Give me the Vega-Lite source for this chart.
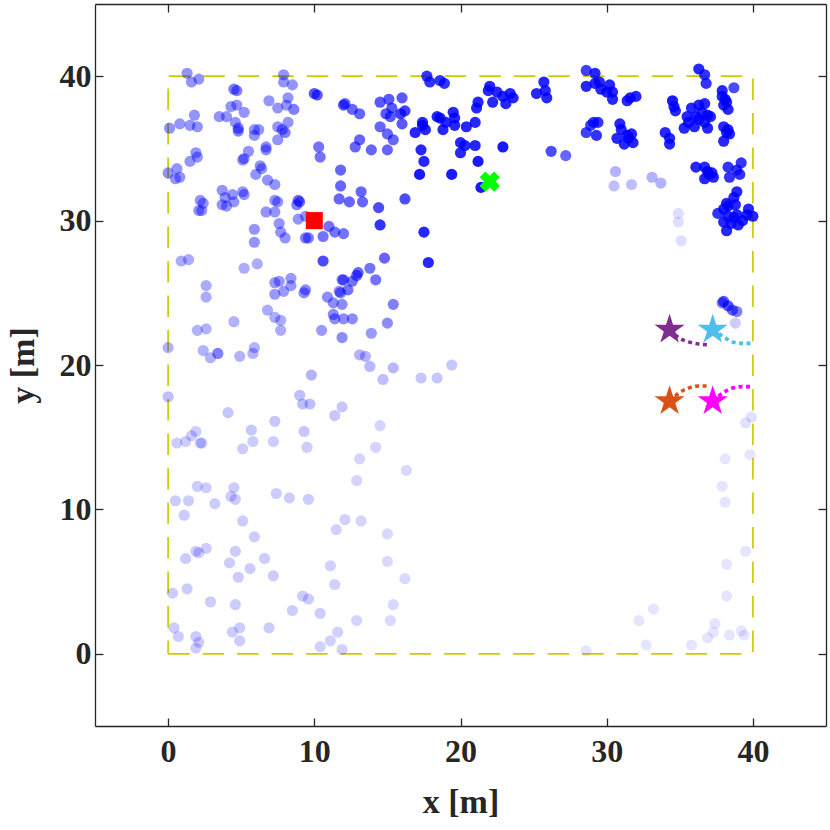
{
  "$schema": "https://vega.github.io/schema/vega-lite/v6.json",
  "width": 731,
  "height": 722,
  "autosize": "none",
  "padding": {"left": 95, "top": 4, "right": 4, "bottom": 104},
  "background": "white",
  "config": {
    "view": {"stroke": null},
    "axis": {
      "grid": false,
      "domainColor": "#262626",
      "domainWidth": 1.3,
      "tickColor": "#262626",
      "tickWidth": 1.3,
      "tickSize": -8,
      "labelFont": "Liberation Serif",
      "labelFontWeight": "bold",
      "labelFontSize": 32,
      "labelColor": "#262626",
      "titleFont": "Liberation Serif",
      "titleFontWeight": "bold",
      "titleFontSize": 34,
      "titleColor": "#262626"
    }
  },
  "datasets": {
    "box": [
      {"x": 0, "y": 0, "o": 1}, {"x": 40, "y": 0, "o": 2}, {"x": 40, "y": 40, "o": 3},
      {"x": 0, "y": 40, "o": 4}, {"x": 0, "y": 0, "o": 5}
    ],
    "pts": [
      {"x": 1.3, "y": 40.2, "a": 0.42}, {"x": 1.6, "y": 39.6, "a": 0.42}, {"x": 2.1, "y": 39.8, "a": 0.42},
      {"x": 4.5, "y": 39.1, "a": 0.5}, {"x": 4.7, "y": 39.0, "a": 0.5}, {"x": 7.9, "y": 40.1, "a": 0.42},
      {"x": 7.9, "y": 39.6, "a": 0.42}, {"x": 8.5, "y": 39.4, "a": 0.42}, {"x": 10.0, "y": 38.8, "a": 0.65},
      {"x": 10.2, "y": 38.7, "a": 0.65}, {"x": 12.0, "y": 38.0, "a": 0.65}, {"x": 6.9, "y": 38.3, "a": 0.42},
      {"x": 7.5, "y": 37.8, "a": 0.42}, {"x": 8.2, "y": 38.5, "a": 0.42}, {"x": 8.6, "y": 37.7, "a": 0.5},
      {"x": 8.1, "y": 38.0, "a": 0.42}, {"x": 7.8, "y": 36.3, "a": 0.5}, {"x": 8.0, "y": 36.1, "a": 0.5},
      {"x": 7.5, "y": 36.5, "a": 0.42}, {"x": 8.2, "y": 36.8, "a": 0.42}, {"x": 7.5, "y": 35.6, "a": 0.42},
      {"x": 4.3, "y": 37.9, "a": 0.42}, {"x": 4.7, "y": 38.0, "a": 0.42}, {"x": 5.2, "y": 37.5, "a": 0.42},
      {"x": 3.5, "y": 37.2, "a": 0.42}, {"x": 4.0, "y": 37.2, "a": 0.42}, {"x": 4.6, "y": 36.8, "a": 0.42},
      {"x": 4.8, "y": 36.4, "a": 0.5}, {"x": 4.8, "y": 36.2, "a": 0.5}, {"x": 5.9, "y": 35.9, "a": 0.42},
      {"x": 6.2, "y": 36.3, "a": 0.42}, {"x": 5.9, "y": 36.3, "a": 0.42}, {"x": 6.7, "y": 35.1, "a": 0.45},
      {"x": 6.7, "y": 34.9, "a": 0.45}, {"x": 5.5, "y": 34.8, "a": 0.42}, {"x": 5.1, "y": 34.2, "a": 0.42},
      {"x": 5.2, "y": 34.3, "a": 0.42}, {"x": 6.3, "y": 33.8, "a": 0.42}, {"x": 6.0, "y": 33.2, "a": 0.42},
      {"x": 6.4, "y": 33.6, "a": 0.42}, {"x": 6.8, "y": 32.8, "a": 0.42}, {"x": 7.3, "y": 32.5, "a": 0.42},
      {"x": 0.1, "y": 36.4, "a": 0.42}, {"x": 0.8, "y": 36.7, "a": 0.42}, {"x": 1.5, "y": 36.6, "a": 0.42},
      {"x": 2.0, "y": 36.5, "a": 0.42}, {"x": 1.8, "y": 37.3, "a": 0.42}, {"x": 1.9, "y": 34.7, "a": 0.42},
      {"x": 1.5, "y": 34.1, "a": 0.42}, {"x": 2.0, "y": 34.4, "a": 0.42}, {"x": 0.0, "y": 33.3, "a": 0.42},
      {"x": 0.6, "y": 33.6, "a": 0.42}, {"x": 0.5, "y": 32.9, "a": 0.42}, {"x": 0.8, "y": 33.0, "a": 0.42},
      {"x": 3.7, "y": 32.1, "a": 0.42}, {"x": 3.9, "y": 31.6, "a": 0.42}, {"x": 3.7, "y": 31.1, "a": 0.42},
      {"x": 4.0, "y": 31.0, "a": 0.42}, {"x": 4.4, "y": 31.8, "a": 0.42}, {"x": 4.5, "y": 31.3, "a": 0.42},
      {"x": 5.2, "y": 31.8, "a": 0.42}, {"x": 5.1, "y": 32.0, "a": 0.42}, {"x": 2.2, "y": 31.4, "a": 0.42},
      {"x": 2.4, "y": 31.2, "a": 0.42}, {"x": 2.1, "y": 30.7, "a": 0.42}, {"x": 2.3, "y": 30.7, "a": 0.42},
      {"x": 7.3, "y": 31.4, "a": 0.42}, {"x": 7.5, "y": 31.3, "a": 0.42}, {"x": 6.7, "y": 30.6, "a": 0.42},
      {"x": 7.3, "y": 30.6, "a": 0.42}, {"x": 8.9, "y": 31.4, "a": 0.55}, {"x": 9.0, "y": 31.3, "a": 0.55},
      {"x": 8.8, "y": 31.1, "a": 0.5}, {"x": 10.3, "y": 35.1, "a": 0.55}, {"x": 10.4, "y": 34.4, "a": 0.55},
      {"x": 11.8, "y": 33.5, "a": 0.6}, {"x": 11.8, "y": 32.4, "a": 0.6}, {"x": 11.7, "y": 31.5, "a": 0.6},
      {"x": 7.6, "y": 29.8, "a": 0.42}, {"x": 7.7, "y": 29.2, "a": 0.42}, {"x": 8.0, "y": 28.8, "a": 0.42},
      {"x": 5.9, "y": 29.4, "a": 0.42}, {"x": 5.9, "y": 28.5, "a": 0.42}, {"x": 8.9, "y": 30.1, "a": 0.42},
      {"x": 9.4, "y": 30.3, "a": 0.42}, {"x": 9.4, "y": 28.8, "a": 0.5}, {"x": 9.6, "y": 28.8, "a": 0.5},
      {"x": 10.6, "y": 28.9, "a": 0.55}, {"x": 11.0, "y": 29.6, "a": 0.55}, {"x": 11.4, "y": 29.2, "a": 0.55},
      {"x": 12.0, "y": 29.1, "a": 0.55},
      {"x": 17.7, "y": 40.0, "a": 0.8}, {"x": 17.9, "y": 39.6, "a": 0.8}, {"x": 18.6, "y": 39.7, "a": 0.8},
      {"x": 18.9, "y": 39.5, "a": 0.8}, {"x": 12.1, "y": 38.1, "a": 0.6}, {"x": 12.6, "y": 37.7, "a": 0.6},
      {"x": 13.1, "y": 37.4, "a": 0.6}, {"x": 14.5, "y": 38.2, "a": 0.65}, {"x": 15.1, "y": 38.4, "a": 0.65},
      {"x": 16.0, "y": 38.5, "a": 0.65}, {"x": 15.3, "y": 37.8, "a": 0.65}, {"x": 14.9, "y": 37.4, "a": 0.65},
      {"x": 15.2, "y": 37.2, "a": 0.65}, {"x": 16.2, "y": 37.6, "a": 0.75}, {"x": 15.9, "y": 37.4, "a": 0.75},
      {"x": 16.0, "y": 36.7, "a": 0.65}, {"x": 14.5, "y": 36.5, "a": 0.6}, {"x": 15.0, "y": 36.0, "a": 0.6},
      {"x": 15.4, "y": 35.6, "a": 0.6}, {"x": 13.1, "y": 35.6, "a": 0.6}, {"x": 12.8, "y": 35.1, "a": 0.6},
      {"x": 13.9, "y": 34.9, "a": 0.6}, {"x": 15.0, "y": 34.9, "a": 0.6}, {"x": 12.4, "y": 31.3, "a": 0.6},
      {"x": 13.2, "y": 32.0, "a": 0.6}, {"x": 13.3, "y": 31.3, "a": 0.6}, {"x": 14.4, "y": 30.9, "a": 0.7},
      {"x": 14.5, "y": 29.7, "a": 0.8}, {"x": 16.2, "y": 31.5, "a": 0.7}, {"x": 17.5, "y": 29.2, "a": 0.85},
      {"x": 17.4, "y": 36.6, "a": 0.85}, {"x": 16.9, "y": 36.1, "a": 0.85}, {"x": 17.6, "y": 36.3, "a": 0.85},
      {"x": 17.4, "y": 36.8, "a": 0.85}, {"x": 18.4, "y": 37.2, "a": 0.85}, {"x": 18.6, "y": 37.1, "a": 0.85},
      {"x": 18.8, "y": 36.3, "a": 0.85}, {"x": 19.5, "y": 37.5, "a": 0.85}, {"x": 19.6, "y": 36.6, "a": 0.85},
      {"x": 19.0, "y": 36.8, "a": 0.85}, {"x": 19.6, "y": 37.1, "a": 0.85}, {"x": 20.4, "y": 36.5, "a": 0.85},
      {"x": 21.0, "y": 36.8, "a": 0.85}, {"x": 20.0, "y": 35.4, "a": 0.85}, {"x": 20.3, "y": 35.2, "a": 0.85},
      {"x": 20.0, "y": 34.7, "a": 0.85}, {"x": 21.0, "y": 35.2, "a": 0.85}, {"x": 17.3, "y": 34.9, "a": 0.85},
      {"x": 17.5, "y": 34.1, "a": 0.85}, {"x": 17.2, "y": 33.2, "a": 0.9}, {"x": 19.4, "y": 33.2, "a": 0.9},
      {"x": 21.2, "y": 34.1, "a": 0.9}, {"x": 21.4, "y": 32.3, "a": 0.9}, {"x": 22.9, "y": 35.1, "a": 0.9},
      {"x": 21.2, "y": 38.2, "a": 0.85}, {"x": 21.1, "y": 37.8, "a": 0.85}, {"x": 22.0, "y": 39.3, "a": 0.85},
      {"x": 21.9, "y": 39.0, "a": 0.85}, {"x": 22.5, "y": 38.9, "a": 0.85}, {"x": 22.2, "y": 38.2, "a": 0.85},
      {"x": 22.9, "y": 38.6, "a": 0.85}, {"x": 23.1, "y": 38.1, "a": 0.85}, {"x": 23.4, "y": 38.8, "a": 0.85},
      {"x": 23.6, "y": 38.5, "a": 0.85}, {"x": 25.7, "y": 39.6, "a": 0.85}, {"x": 25.2, "y": 38.8, "a": 0.85},
      {"x": 25.9, "y": 38.5, "a": 0.85}, {"x": 25.8, "y": 39.0, "a": 0.85}, {"x": 26.2, "y": 34.8, "a": 0.7},
      {"x": 27.2, "y": 34.5, "a": 0.6}, {"x": 28.6, "y": 40.4, "a": 0.75}, {"x": 28.6, "y": 39.3, "a": 0.85},
      {"x": 28.6, "y": 36.1, "a": 0.75}, {"x": 28.9, "y": 36.6, "a": 0.75},
      {"x": 29.2, "y": 40.2, "a": 0.85}, {"x": 29.2, "y": 39.5, "a": 0.85}, {"x": 29.6, "y": 39.1, "a": 0.85},
      {"x": 29.5, "y": 39.6, "a": 0.85}, {"x": 30.2, "y": 39.4, "a": 0.85}, {"x": 30.4, "y": 38.9, "a": 0.85},
      {"x": 30.4, "y": 38.4, "a": 0.85}, {"x": 30.0, "y": 38.9, "a": 0.85}, {"x": 31.4, "y": 38.3, "a": 0.85},
      {"x": 31.6, "y": 38.5, "a": 0.85}, {"x": 32.0, "y": 38.6, "a": 0.85}, {"x": 29.1, "y": 36.8, "a": 0.8},
      {"x": 29.4, "y": 36.8, "a": 0.8}, {"x": 29.3, "y": 35.9, "a": 0.8}, {"x": 30.9, "y": 36.7, "a": 0.85},
      {"x": 31.0, "y": 36.3, "a": 0.85}, {"x": 30.7, "y": 35.7, "a": 0.85}, {"x": 31.4, "y": 35.9, "a": 0.85},
      {"x": 31.7, "y": 36.0, "a": 0.85}, {"x": 31.2, "y": 35.3, "a": 0.85}, {"x": 31.8, "y": 35.4, "a": 0.85},
      {"x": 31.5, "y": 35.7, "a": 0.85}, {"x": 34.5, "y": 38.3, "a": 0.9}, {"x": 34.6, "y": 37.9, "a": 0.85},
      {"x": 34.7, "y": 37.6, "a": 0.85}, {"x": 34.0, "y": 36.1, "a": 0.85}, {"x": 34.3, "y": 35.7, "a": 0.85},
      {"x": 34.3, "y": 35.3, "a": 0.85}, {"x": 35.8, "y": 37.8, "a": 0.85}, {"x": 36.3, "y": 38.0, "a": 0.85},
      {"x": 36.7, "y": 38.1, "a": 0.85}, {"x": 35.5, "y": 37.2, "a": 0.85}, {"x": 36.1, "y": 37.2, "a": 0.85},
      {"x": 36.5, "y": 37.5, "a": 0.85}, {"x": 36.9, "y": 37.3, "a": 0.85}, {"x": 37.1, "y": 37.2, "a": 0.85},
      {"x": 35.3, "y": 36.4, "a": 0.85}, {"x": 36.0, "y": 36.5, "a": 0.85}, {"x": 36.9, "y": 36.4, "a": 0.85},
      {"x": 35.6, "y": 36.8, "a": 0.85}, {"x": 36.3, "y": 37.0, "a": 0.85}, {"x": 36.7, "y": 36.8, "a": 0.85},
      {"x": 36.3, "y": 40.5, "a": 0.85}, {"x": 36.7, "y": 40.1, "a": 0.8}, {"x": 36.8, "y": 39.5, "a": 0.8},
      {"x": 37.9, "y": 39.0, "a": 0.85}, {"x": 38.1, "y": 38.4, "a": 0.85}, {"x": 37.9, "y": 38.6, "a": 0.85},
      {"x": 38.7, "y": 39.2, "a": 0.7}, {"x": 38.3, "y": 37.7, "a": 0.85}, {"x": 38.0, "y": 38.0, "a": 0.85},
      {"x": 38.2, "y": 38.2, "a": 0.85}, {"x": 38.0, "y": 36.5, "a": 0.85}, {"x": 38.2, "y": 36.1, "a": 0.85},
      {"x": 38.4, "y": 36.0, "a": 0.85}, {"x": 38.0, "y": 35.5, "a": 0.85}, {"x": 38.3, "y": 36.3, "a": 0.85},
      {"x": 30.6, "y": 33.4, "a": 0.3}, {"x": 30.5, "y": 32.4, "a": 0.25}, {"x": 31.7, "y": 32.5, "a": 0.25},
      {"x": 33.1, "y": 33.0, "a": 0.3}, {"x": 33.7, "y": 32.6, "a": 0.3}, {"x": 34.9, "y": 30.5, "a": 0.13},
      {"x": 34.9, "y": 29.9, "a": 0.13}, {"x": 35.1, "y": 28.6, "a": 0.13}, {"x": 36.1, "y": 33.7, "a": 0.85},
      {"x": 36.7, "y": 33.7, "a": 0.85}, {"x": 36.9, "y": 33.4, "a": 0.85}, {"x": 37.2, "y": 33.3, "a": 0.85},
      {"x": 36.7, "y": 32.9, "a": 0.85}, {"x": 37.0, "y": 33.2, "a": 0.85}, {"x": 37.3, "y": 33.0, "a": 0.85},
      {"x": 38.3, "y": 33.7, "a": 0.8}, {"x": 38.4, "y": 33.0, "a": 0.8}, {"x": 38.9, "y": 33.5, "a": 0.8},
      {"x": 39.2, "y": 34.0, "a": 0.8}, {"x": 39.1, "y": 33.2, "a": 0.8}, {"x": 38.9, "y": 32.0, "a": 0.85},
      {"x": 38.7, "y": 31.6, "a": 0.85}, {"x": 38.2, "y": 31.2, "a": 0.85}, {"x": 38.0, "y": 30.8, "a": 0.85},
      {"x": 37.6, "y": 30.5, "a": 0.8}, {"x": 38.3, "y": 30.3, "a": 0.85}, {"x": 38.9, "y": 30.4, "a": 0.85},
      {"x": 39.7, "y": 30.8, "a": 0.85}, {"x": 40.0, "y": 30.3, "a": 0.85}, {"x": 39.3, "y": 30.0, "a": 0.85},
      {"x": 38.5, "y": 29.8, "a": 0.85}, {"x": 38.2, "y": 29.3, "a": 0.85}, {"x": 39.6, "y": 30.4, "a": 0.85},
      {"x": 39.0, "y": 29.7, "a": 0.85}, {"x": 38.0, "y": 29.9, "a": 0.85}, {"x": 38.7, "y": 30.2, "a": 0.85},
      {"x": 38.3, "y": 31.0, "a": 0.85}, {"x": 38.8, "y": 31.1, "a": 0.85},
      {"x": 0.9, "y": 27.2, "a": 0.33}, {"x": 1.4, "y": 27.3, "a": 0.33}, {"x": 5.2, "y": 26.7, "a": 0.33},
      {"x": 6.1, "y": 27.0, "a": 0.33}, {"x": 2.6, "y": 25.5, "a": 0.33}, {"x": 2.6, "y": 24.7, "a": 0.33},
      {"x": 7.3, "y": 25.7, "a": 0.4}, {"x": 7.6, "y": 25.8, "a": 0.4}, {"x": 8.4, "y": 26.0, "a": 0.4},
      {"x": 8.4, "y": 25.5, "a": 0.4}, {"x": 7.9, "y": 25.1, "a": 0.4}, {"x": 7.3, "y": 24.9, "a": 0.4},
      {"x": 9.3, "y": 25.0, "a": 0.45}, {"x": 9.4, "y": 25.2, "a": 0.45}, {"x": 10.6, "y": 27.2, "a": 0.7},
      {"x": 6.8, "y": 23.8, "a": 0.33}, {"x": 7.3, "y": 23.3, "a": 0.33}, {"x": 7.7, "y": 23.1, "a": 0.33},
      {"x": 7.7, "y": 22.4, "a": 0.33}, {"x": 4.5, "y": 23.0, "a": 0.3}, {"x": 2.0, "y": 22.4, "a": 0.3},
      {"x": 2.6, "y": 22.5, "a": 0.3}, {"x": 2.4, "y": 21.0, "a": 0.3}, {"x": 2.9, "y": 20.5, "a": 0.3},
      {"x": 3.4, "y": 20.8, "a": 0.5}, {"x": 4.9, "y": 20.6, "a": 0.3}, {"x": 5.8, "y": 20.8, "a": 0.3},
      {"x": 5.9, "y": 21.2, "a": 0.3}, {"x": 0.0, "y": 21.2, "a": 0.3}, {"x": 0.0, "y": 17.8, "a": 0.25},
      {"x": 10.5, "y": 22.4, "a": 0.4}, {"x": 10.9, "y": 24.7, "a": 0.45}, {"x": 11.3, "y": 24.3, "a": 0.45},
      {"x": 11.7, "y": 25.1, "a": 0.45}, {"x": 11.9, "y": 25.9, "a": 0.5}, {"x": 11.3, "y": 23.5, "a": 0.45},
      {"x": 11.4, "y": 23.2, "a": 0.45}, {"x": 11.9, "y": 21.9, "a": 0.45}, {"x": 9.8, "y": 19.3, "a": 0.3},
      {"x": 9.0, "y": 17.9, "a": 0.25}, {"x": 9.2, "y": 17.3, "a": 0.25}, {"x": 9.7, "y": 17.3, "a": 0.25},
      {"x": 4.1, "y": 16.7, "a": 0.22}, {"x": 7.3, "y": 16.1, "a": 0.22}, {"x": 5.7, "y": 15.5, "a": 0.22},
      {"x": 9.3, "y": 15.4, "a": 0.22}, {"x": 11.4, "y": 16.5, "a": 0.22}, {"x": 11.9, "y": 17.1, "a": 0.22},
      {"x": 14.8, "y": 27.4, "a": 0.6}, {"x": 17.8, "y": 27.1, "a": 0.85}, {"x": 13.8, "y": 26.7, "a": 0.55},
      {"x": 14.2, "y": 25.9, "a": 0.55}, {"x": 12.9, "y": 26.2, "a": 0.6}, {"x": 13.0, "y": 26.4, "a": 0.6},
      {"x": 12.6, "y": 25.8, "a": 0.55}, {"x": 12.3, "y": 25.2, "a": 0.55}, {"x": 12.0, "y": 25.9, "a": 0.5},
      {"x": 11.8, "y": 25.0, "a": 0.5}, {"x": 15.4, "y": 24.2, "a": 0.5}, {"x": 11.9, "y": 24.2, "a": 0.45},
      {"x": 12.0, "y": 23.2, "a": 0.45}, {"x": 12.6, "y": 23.2, "a": 0.45}, {"x": 15.0, "y": 22.9, "a": 0.45},
      {"x": 13.9, "y": 22.2, "a": 0.4}, {"x": 13.1, "y": 20.7, "a": 0.3}, {"x": 13.5, "y": 20.6, "a": 0.3},
      {"x": 13.8, "y": 19.9, "a": 0.28}, {"x": 15.4, "y": 19.8, "a": 0.28}, {"x": 14.7, "y": 19.0, "a": 0.25},
      {"x": 17.3, "y": 19.1, "a": 0.22}, {"x": 18.4, "y": 19.1, "a": 0.22}, {"x": 19.4, "y": 20.0, "a": 0.22},
      {"x": 14.5, "y": 15.8, "a": 0.17},
      {"x": 38.0, "y": 24.4, "a": 0.65}, {"x": 38.3, "y": 24.1, "a": 0.65}, {"x": 38.6, "y": 23.8, "a": 0.6},
      {"x": 38.9, "y": 23.7, "a": 0.5}, {"x": 37.9, "y": 24.3, "a": 0.5}, {"x": 38.8, "y": 22.9, "a": 0.2},
      {"x": 39.5, "y": 16.0, "a": 0.12}, {"x": 39.9, "y": 16.4, "a": 0.12},
      {"x": 0.6, "y": 14.6, "a": 0.2}, {"x": 1.2, "y": 14.7, "a": 0.2}, {"x": 1.6, "y": 15.1, "a": 0.2},
      {"x": 1.9, "y": 15.4, "a": 0.2}, {"x": 2.2, "y": 14.6, "a": 0.2}, {"x": 2.3, "y": 14.6, "a": 0.2},
      {"x": 5.1, "y": 14.2, "a": 0.2}, {"x": 5.8, "y": 14.7, "a": 0.2}, {"x": 7.2, "y": 14.7, "a": 0.2},
      {"x": 9.5, "y": 14.3, "a": 0.2}, {"x": 0.5, "y": 10.6, "a": 0.2}, {"x": 1.4, "y": 10.6, "a": 0.2},
      {"x": 2.0, "y": 11.6, "a": 0.2}, {"x": 2.6, "y": 11.5, "a": 0.2}, {"x": 3.2, "y": 10.4, "a": 0.2},
      {"x": 1.1, "y": 9.6, "a": 0.2}, {"x": 4.5, "y": 11.5, "a": 0.2}, {"x": 4.3, "y": 10.9, "a": 0.2},
      {"x": 4.6, "y": 10.7, "a": 0.2}, {"x": 5.1, "y": 9.2, "a": 0.2}, {"x": 5.9, "y": 8.1, "a": 0.2},
      {"x": 7.4, "y": 11.1, "a": 0.2}, {"x": 8.3, "y": 10.8, "a": 0.2}, {"x": 9.6, "y": 10.7, "a": 0.2},
      {"x": 12.1, "y": 9.3, "a": 0.18}, {"x": 11.5, "y": 8.6, "a": 0.18}, {"x": 1.9, "y": 7.1, "a": 0.2},
      {"x": 2.1, "y": 7.0, "a": 0.2}, {"x": 2.6, "y": 7.3, "a": 0.2}, {"x": 1.2, "y": 6.6, "a": 0.2},
      {"x": 4.6, "y": 7.1, "a": 0.2}, {"x": 4.2, "y": 6.3, "a": 0.2}, {"x": 4.8, "y": 5.3, "a": 0.2},
      {"x": 5.6, "y": 5.9, "a": 0.2}, {"x": 6.6, "y": 6.6, "a": 0.2}, {"x": 7.2, "y": 5.4, "a": 0.2},
      {"x": 0.3, "y": 4.2, "a": 0.2}, {"x": 1.3, "y": 4.5, "a": 0.2}, {"x": 2.9, "y": 3.6, "a": 0.2},
      {"x": 4.6, "y": 3.4, "a": 0.2}, {"x": 11.1, "y": 6.1, "a": 0.18}, {"x": 11.4, "y": 4.8, "a": 0.18},
      {"x": 9.2, "y": 4.0, "a": 0.2}, {"x": 9.6, "y": 3.8, "a": 0.2}, {"x": 8.5, "y": 3.0, "a": 0.2},
      {"x": 10.4, "y": 2.8, "a": 0.2}, {"x": 0.4, "y": 1.8, "a": 0.2}, {"x": 0.7, "y": 1.2, "a": 0.2},
      {"x": 1.9, "y": 1.2, "a": 0.2}, {"x": 2.1, "y": 0.8, "a": 0.2}, {"x": 1.9, "y": 0.4, "a": 0.2},
      {"x": 4.4, "y": 1.5, "a": 0.2}, {"x": 4.9, "y": 1.8, "a": 0.2}, {"x": 4.9, "y": 0.9, "a": 0.2},
      {"x": 6.9, "y": 1.8, "a": 0.2}, {"x": 11.6, "y": 1.5, "a": 0.18}, {"x": 11.1, "y": 0.9, "a": 0.18},
      {"x": 10.4, "y": 0.5, "a": 0.18}, {"x": 11.9, "y": 0.3, "a": 0.18},
      {"x": 14.2, "y": 14.3, "a": 0.17}, {"x": 13.1, "y": 13.5, "a": 0.17}, {"x": 12.9, "y": 12.0, "a": 0.17},
      {"x": 16.3, "y": 12.7, "a": 0.15}, {"x": 13.2, "y": 9.2, "a": 0.17}, {"x": 15.0, "y": 8.3, "a": 0.15},
      {"x": 15.0, "y": 6.4, "a": 0.15}, {"x": 16.2, "y": 5.2, "a": 0.15}, {"x": 15.4, "y": 3.4, "a": 0.15},
      {"x": 15.2, "y": 2.3, "a": 0.15}, {"x": 12.9, "y": 2.3, "a": 0.17}, {"x": 28.6, "y": 0.2, "a": 0.1},
      {"x": 38.1, "y": 13.5, "a": 0.1}, {"x": 39.8, "y": 13.8, "a": 0.1}, {"x": 37.9, "y": 11.6, "a": 0.1},
      {"x": 38.1, "y": 10.5, "a": 0.1}, {"x": 39.5, "y": 7.1, "a": 0.1}, {"x": 38.2, "y": 6.2, "a": 0.1},
      {"x": 38.2, "y": 4.0, "a": 0.1}, {"x": 33.2, "y": 3.1, "a": 0.1}, {"x": 32.2, "y": 2.3, "a": 0.1},
      {"x": 32.7, "y": 0.6, "a": 0.1}, {"x": 35.8, "y": 0.6, "a": 0.1}, {"x": 36.9, "y": 1.1, "a": 0.1},
      {"x": 37.3, "y": 1.5, "a": 0.1}, {"x": 37.4, "y": 2.1, "a": 0.1}, {"x": 38.4, "y": 1.3, "a": 0.1},
      {"x": 39.2, "y": 1.6, "a": 0.1}, {"x": 39.4, "y": 1.3, "a": 0.1}
    ],
    "paths": [
      {"s": "p", "o": 1, "x": 34.3, "y": 22.45}, {"s": "p", "o": 2, "x": 35.0, "y": 21.85},
      {"s": "p", "o": 3, "x": 35.6, "y": 21.6}, {"s": "p", "o": 4, "x": 36.3, "y": 21.45},
      {"s": "p", "o": 5, "x": 37.0, "y": 21.4},
      {"s": "c", "o": 1, "x": 37.25, "y": 22.45}, {"s": "c", "o": 2, "x": 38.0, "y": 21.95},
      {"s": "c", "o": 3, "x": 38.6, "y": 21.6}, {"s": "c", "o": 4, "x": 39.3, "y": 21.5},
      {"s": "c", "o": 5, "x": 40.0, "y": 21.5},
      {"s": "o", "o": 1, "x": 34.3, "y": 17.5}, {"s": "o", "o": 2, "x": 35.0, "y": 18.1},
      {"s": "o", "o": 3, "x": 35.6, "y": 18.4}, {"s": "o", "o": 4, "x": 36.3, "y": 18.55},
      {"s": "o", "o": 5, "x": 37.0, "y": 18.55},
      {"s": "m", "o": 1, "x": 37.25, "y": 17.5}, {"s": "m", "o": 2, "x": 38.0, "y": 18.1},
      {"s": "m", "o": 3, "x": 38.6, "y": 18.4}, {"s": "m", "o": 4, "x": 39.3, "y": 18.5},
      {"s": "m", "o": 5, "x": 40.0, "y": 18.5}
    ],
    "stars": [
      {"s": "p", "x": 34.3, "y": 22.45}, {"s": "c", "x": 37.25, "y": 22.45},
      {"s": "o", "x": 34.3, "y": 17.5}, {"s": "m", "x": 37.25, "y": 17.5}
    ],
    "base": [{"x": 10, "y": 30}],
    "target": [{"x": 22, "y": 32.7}]
  },
  "encoding": {
    "x": {"field": "x", "type": "quantitative", "scale": {"domain": [-5, 45], "nice": false, "zero": false}, "axis": null},
    "y": {"field": "y", "type": "quantitative", "scale": {"domain": [-5, 45], "nice": false, "zero": false}, "axis": null}
  },
  "layer": [
    {
      "data": {"name": "box"},
      "mark": {"type": "line", "color": "#CCCC00", "strokeWidth": 1.7, "strokeDash": [21.5, 13]},
      "encoding": {"order": {"field": "o", "type": "quantitative"}}
    },
    {
      "data": {"name": "pts"},
      "mark": {"type": "circle", "size": 125, "color": "#0000FF", "strokeWidth": 0},
      "encoding": {
        "x": {"field": "x", "type": "quantitative", "scale": {"domain": [-5, 45], "nice": false, "zero": false},
          "axis": {"orient": "bottom", "values": [0, 10, 20, 30, 40], "title": "x [m]", "labelPadding": 18, "titlePadding": 18}},
        "y": {"field": "y", "type": "quantitative", "scale": {"domain": [-5, 45], "nice": false, "zero": false},
          "axis": {"orient": "left", "values": [0, 10, 20, 30, 40], "title": "y [m]", "labelPadding": 12, "titlePadding": 19}},
        "opacity": {"field": "a", "type": "quantitative", "scale": null}
      }
    },
    {
      "data": {"name": "paths"},
      "mark": {"type": "line", "strokeWidth": 3.6, "strokeDash": [4, 3.5], "interpolate": "monotone"},
      "encoding": {
        "order": {"field": "o", "type": "quantitative"},
        "color": {"field": "s", "type": "nominal", "legend": null,
          "scale": {"domain": ["p", "c", "o", "m"], "range": ["#7E2F8E", "#4DBEEE", "#D95319", "#FF00FF"]}}
      }
    },
    {
      "data": {"name": "stars"},
      "mark": {"type": "point", "filled": true, "opacity": 1, "size": 1000,
        "shape": "M0,-1L0.2245,-0.309L0.951,-0.309L0.363,0.118L0.588,0.809L0,0.382L-0.588,0.809L-0.363,0.118L-0.951,-0.309L-0.2245,-0.309Z"},
      "encoding": {
        "color": {"field": "s", "type": "nominal", "legend": null,
          "scale": {"domain": ["p", "c", "o", "m"], "range": ["#7E2F8E", "#4DBEEE", "#D95319", "#FF00FF"]}}
      }
    },
    {
      "data": {"name": "base"},
      "mark": {"type": "square", "size": 290, "color": "#FF0000", "filled": true, "opacity": 1}
    },
    {
      "data": {"name": "target"},
      "mark": {"type": "point", "shape": "cross", "angle": 45, "size": 420, "filled": true, "color": "#00FF00", "opacity": 1}
    },
    {
      "data": {"name": "base"},
      "mark": {"type": "point", "opacity": 0},
      "encoding": {
        "x": {"field": "x", "type": "quantitative", "scale": {"domain": [-5, 45], "nice": false, "zero": false},
          "axis": {"orient": "top", "values": [0, 10, 20, 30, 40], "labels": false, "title": null}},
        "y": {"field": "y", "type": "quantitative", "scale": {"domain": [-5, 45], "nice": false, "zero": false},
          "axis": {"orient": "right", "values": [0, 10, 20, 30, 40], "labels": false, "title": null}}
      }
    }
  ],
  "resolve": {"axis": {"x": "independent", "y": "independent"}}
}
